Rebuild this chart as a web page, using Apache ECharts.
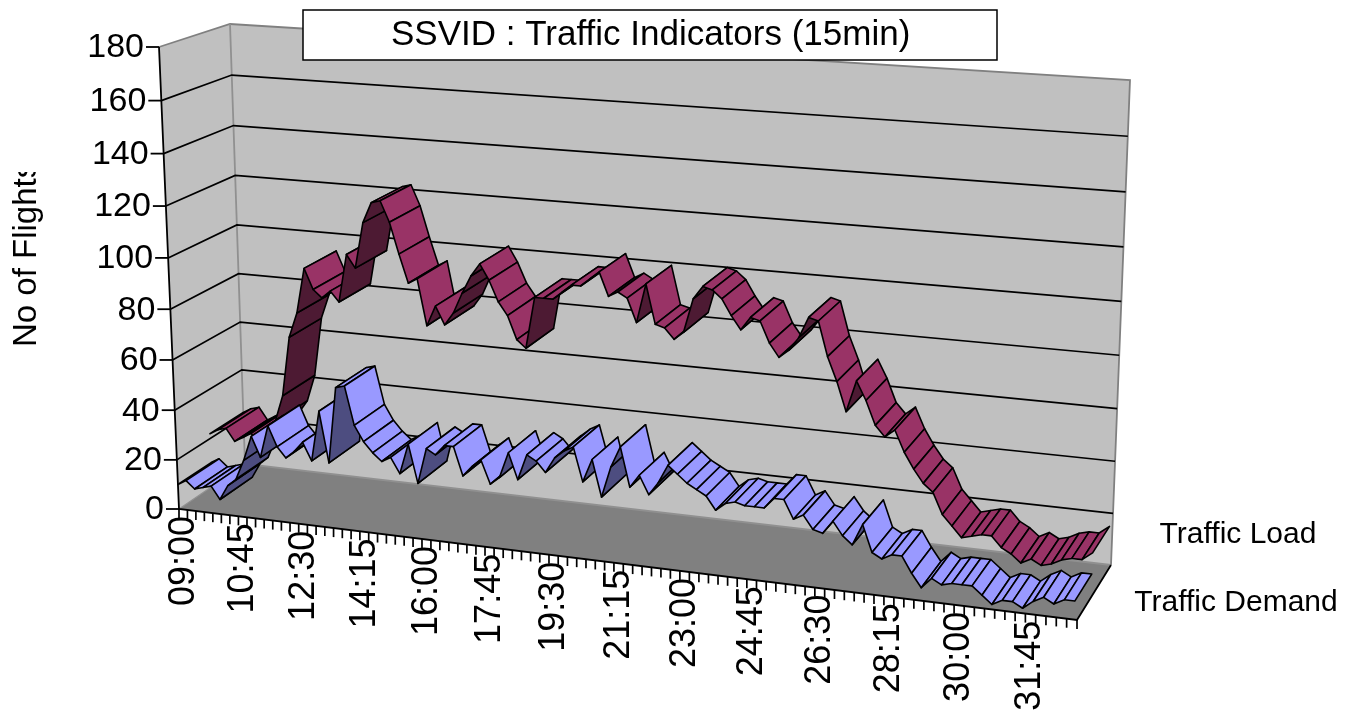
<!DOCTYPE html>
<html><head><meta charset="utf-8">
<style>html,body{margin:0;padding:0;background:#fff}#c{width:1354px;height:715px}</style>
<script src="https://cdn.jsdelivr.net/npm/echarts@6/dist/echarts.min.js"></script>
</head><body><div id="c"></div>
<script>
const titleText = 'SSVID : Traffic Indicators (15min)';
const yAxisTitle = 'No of Flights';
const seriesNames = ['Traffic Load', 'Traffic Demand'];
const yTickValues = [0,20,40,60,80,100,120,140,160,180];
const labelEvery = 7;
const categories = [];
for (let i = 0; i <= 96; i++) {
  const m = 9 * 60 + i * 15;
  categories.push(String(Math.floor(m / 60)).padStart(2, '0') + ':' + String(m % 60).padStart(2, '0'));
}
const trafficLoad = [22,24,25,20,22,24,22,25,30,41,65,75,93,85,82,85,81,100,95,113,121,122,114,102,91,
  93,75,83,76,81,89,96,101,95,87,82,73,70,90,90,90,93,96,96,99,102,93,95,93,84,99,84,83,79,82,95,100,99,96,90,85,
  90,89,81,76,79,84,92,91,78,69,58,70,63,54,50,53,45,39,34,31,23,19,15,16,17,17,13,11,8,10,8,9,11,12,12,15];
const trafficDemand = [10,12,9,10,11,6,12,15,23,33,25,38,30,26,29,33,26,46,26,56,57,42,36,32,29,31,25,37,22,36,34,38,38,
  27,31,34,25,28,38,28,38,36,32,38,41,43,30,39,25,37,45,30,35,28,33,40,37,34,32,30,25,
  28,29,28,28,28,32,32,25,27,22,21,26,21,18,26,16,14,16,16,10,5,9,7,8,8,8,5,2,4,4,2,5,7,5,7,7];

// Palette and 3D box calibration (pixel corners of the projected plot box)
const C = {
  fl0:[179,509], fr0:[1077,620], bl0:[245,464], br0:[1111,565],
  fl1:[159,47],  fr1:[1098,110], bl1:[230,24],  br1:[1130,80]
};
const lerp = (a,b,s) => [a[0]+(b[0]-a[0])*s, a[1]+(b[1]-a[1])*s];
const warp = (s,k) => s/(1+k*(1-s));
function project(t,f,z){
  const u = warp(t,0.11), v = warp(f,0.05);
  const b = lerp(lerp(C.fl0,C.fr0,u), lerp(C.bl0,C.br0,u), z);
  const h = lerp(lerp(C.fl1,C.fr1,u), lerp(C.bl1,C.br1,u), z);
  return lerp(b,h,v);
}
// ribbons sit a few pixels left of the tick plane once past the first categories
function projectRibbon(t,f,z){
  const p = project(t,f,z);
  return [p[0]-3*Math.min(1,t*5), p[1]];
}
// turns a library coordinate of the (hidden) cartesian grid into box fractions
function frac(api, params, i, val){
  const p = api.coord([i,val]), g = params.coordSys;
  return [(p[0]-g.x)/g.width, (g.y+g.height-p[1])/g.height];
}
const FONT = '"Liberation Sans", Arial, sans-serif';

function ribbon(z0,z1,fill,dark){
  return function(params,api){
    const i = api.value(0);
    const a = frac(api,params,i,api.value(1)), b = frac(api,params,i+1,api.value(2));
    const pts = [projectRibbon(a[0],a[1],z0), projectRibbon(b[0],b[1],z0), projectRibbon(b[0],b[1],z1), projectRibbon(a[0],a[1],z1)];
    let area = 0;
    pts.forEach((p,k)=>{const q=pts[(k+1)%4]; area += p[0]*q[1]-q[0]*p[1];});
    return {type:'polygon', shape:{points:pts},
      style:{fill: area<0 ? fill : dark, stroke:'#000', lineWidth:1.6, lineJoin:'round'}};
  };
}
const segs = arr => arr.slice(0,-1).map((v,i)=>[i,v,arr[i+1]]);
const base = {type:'custom', silent:true, animation:false, clip:false, coordinateSystem:'cartesian2d'};

const option = {
  animation:false,
  backgroundColor:'#fff',
  title:{text:titleText, left:303, top:10, backgroundColor:'#fff', borderColor:'#000', borderWidth:1.5,
    padding:[8,87,7,88], textStyle:{fontFamily:FONT, fontWeight:'normal', fontSize:35, lineHeight:35, color:'#000'}},
  grid:{left:100,right:100,top:100,bottom:100},
  xAxis:{type:'category', data:categories, boundaryGap:false, show:false},
  yAxis:{type:'value', min:0, max:180, interval:20, show:false},
  series:[
    Object.assign({},base,{name:'walls', data:[[0,0]], renderItem(params,api){
      const a = frac(api,params,0,0), b = frac(api,params,96,180);
      const t0=a[0],t1=b[0],f0=a[1],f1=b[1];
      const q=(p)=>p.map(x=>project(x[0],x[1],x[2]));
      return {type:'group',children:[
        {type:'polygon',shape:{points:q([[t0,f0,0],[t0,f1,0],[t0,f1,1],[t0,f0,1]])},style:{fill:'#c0c0c0'}},
        {type:'polygon',shape:{points:q([[t0,f0,1],[t0,f1,1],[t1,f1,1],[t1,f0,1]])},style:{fill:'#c0c0c0'}},
        {type:'polygon',shape:{points:q([[t0,f0,0],[t1,f0,0],[t1,f0,1],[t0,f0,1]])},style:{fill:'#808080'}},
        {type:'polyline',shape:{points:q([[t0,f1,0],[t0,f1,1],[t1,f1,1],[t1,f0,1]])},style:{fill:null,stroke:'#808080',lineWidth:1.8}},
        {type:'polyline',shape:{points:q([[t0,f1,1],[t0,f0,1],[t1,f0,1]])},style:{fill:null,stroke:'#909090',lineWidth:1.8}},
        {type:'polyline',shape:{points:q([[t0,f0,0],[t0,f0,1]])},style:{fill:null,stroke:'#909090',lineWidth:1.2}},
        {type:'polyline',shape:{points:q([[t0,f1,0],[t0,f0,0],[t1,f0,0],[t1,f0,1]])},style:{fill:null,stroke:'#000',lineWidth:1.8}}
      ]};
    }}),
    Object.assign({},base,{name:'yTicks', data:yTickValues.map(v=>[0,v]), renderItem(params,api){
      const val = api.value(1), a = frac(api,params,0,val), b = frac(api,params,96,val);
      const p0 = project(a[0],a[1],0), p1 = project(a[0],a[1],1), p2 = project(b[0],b[1],1);
      const kids = [
        {type:'line',shape:{x1:p0[0]-13,y1:p0[1],x2:p0[0],y2:p0[1]},style:{stroke:'#000',lineWidth:1.8}},
        {type:'text',x:p0[0]-15,y:p0[1]+1,style:{text:String(val),align:'right',verticalAlign:'middle',fill:'#000',font:'34px '+FONT}}
      ];
      if(val>0 && val<180) kids.unshift({type:'polyline',shape:{points:[p0,p1,p2]},style:{fill:null,stroke:'#000',lineWidth:1.7}});
      return {type:'group',children:kids};
    }}),
    Object.assign({},base,{name:'xTicks', data:categories.map((c,i)=>[i,0]), renderItem(params,api){
      const i = api.value(0), a = frac(api,params,i,0), p = project(a[0],a[1],0);
      const kids = [{type:'line',shape:{x1:p[0],y1:p[1],x2:p[0],y2:p[1]+9},style:{stroke:'#000',lineWidth:1.7}}];
      if(i%labelEvery===0 && i<=91) kids.push({type:'text',x:p[0]+5,y:p[1]+7,rotation:Math.PI/2,
        style:{text:categories[i],align:'right',verticalAlign:'middle',fill:'#000',font:'36px '+FONT}});
      return {type:'group',children:kids};
    }}),
    Object.assign({},base,{name:seriesNames[0], data:segs(trafficLoad), renderItem:ribbon(0.5,1,'#993366','#4d1a33')}),
    Object.assign({},base,{name:seriesNames[1], data:segs(trafficDemand), renderItem:ribbon(0,0.5,'#9999ff','#4d4d80')})
  ],
  graphic:[
    {type:'text',x:27,y:347,rotation:Math.PI/2,style:{text:yAxisTitle,align:'left',verticalAlign:'middle',fill:'#000',font:'33px '+FONT}},
    {type:'rect',shape:{x:0,y:100,width:60,height:72},style:{fill:'#fff'}},
    {type:'text',x:1238,y:535,style:{text:seriesNames[0],align:'center',verticalAlign:'middle',fill:'#000',font:'30px '+FONT}},
    {type:'text',x:1236,y:603,style:{text:seriesNames[1],align:'center',verticalAlign:'middle',fill:'#000',font:'30px '+FONT}}
  ]
};
echarts.init(document.getElementById('c'),null,{renderer:'canvas'}).setOption(option);
</script></body></html>
